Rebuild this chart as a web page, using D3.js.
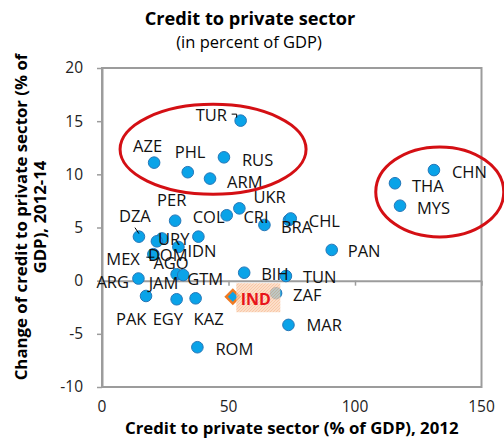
<!DOCTYPE html>
<html><head><meta charset="utf-8">
<script src="https://cdn.jsdelivr.net/npm/d3@7"></script>
<style>body{margin:0;background:#fff}svg{display:block}text{font-family:"Open Sans","Noto Sans",sans-serif}</style>
</head><body><svg id="c" width="504" height="447"></svg>
<script>
const countries = ["TUR","AZE","PHL","RUS","ARM","CHN","THA","MYS","PAN","UKR","COL","CRI","BRA","CHL","PER","DZA","URY","DOM","MEX","IDN","AGO","JAM","GTM","ARG","PAK","EGY","KAZ","ROM","BIH","TUN","ZAF","MAR"];
const credit2012 = [54.8,20.6,33.9,48.2,42.7,131.2,115.8,117.8,90.8,54.3,49.3,64.2,73.9,74.6,28.9,14.6,23.7,21.7,20.3,38.1,30.2,29.5,32.1,14.4,17.4,29.5,37.0,37.7,56.2,72.7,68.8,73.7];
const change1214 = [15.05,11.1,10.2,11.6,9.6,10.4,9.16,7.05,2.89,6.8,6.15,5.24,5.7,5.85,5.64,4.14,3.97,3.7,2.49,4.14,3.17,0.6,0.53,0.2,-1.44,-1.75,-1.66,-6.26,0.75,0.44,-1.18,-4.16];
const highlight = {name:"IND", credit:51.7, change:-1.51};
const xTicks = [0,50,100,150];
const yTicks = [-10,-5,0,5,10,15,20];
// label placement (pixel offsets from the marker)
const labelOffsets = {TUR:[-45,0],AZE:[-21,-11],PHL:[-13,-14],RUS:[18,9],ARM:[17,9],CHN:[18,8],THA:[17,9],MYS:[17,8],PAN:[16,7],UKR:[14,-5],COL:[-34,8],CRI:[-21,-2],BRA:[-8,13],CHL:[18,9],PER:[-18,-15],DZA:[-20,-15],URY:[-4,7],DOM:[-9,20],MEX:[-47,11],IDN:[-11,20],AGO:[-25,22],JAM:[-28,15],GTM:[4,10],ARG:[-42,9],PAK:[-30,29],EGY:[-24,26],KAZ:[-2,27],ROM:[18,8],BIH:[17,7],TUN:[17,7],ZAF:[17,8],MAR:[18,6]};

const svg = d3.select("#c");
const x = d3.scaleLinear().domain([0,150]).range([102,481.5]);
const y = d3.scaleLinear().domain([-10,20]).range([387,68]);

svg.append("text").attr("x",250).attr("y",25).attr("text-anchor","middle").attr("font-weight","bold").attr("font-size",18.2).text("Credit to private sector");
svg.append("text").attr("x",249).attr("y",48).attr("text-anchor","middle").attr("font-size",16.5).text("(in percent of GDP)");

const grey = "#9c9c9c";
svg.append("rect").attr("x",x(0)).attr("y",y(20)).attr("width",x(150)-x(0)).attr("height",y(-10)-y(20)).attr("fill","none").attr("stroke",grey).attr("stroke-width",2);
const ya = svg.append("g").attr("transform",`translate(${x(0)},0)`).call(d3.axisLeft(y).tickValues(yTicks).tickSize(5).tickPadding(14).tickSizeOuter(0).tickFormat(d=>String(d)));
ya.select(".domain").attr("stroke",grey).attr("stroke-width",2);
ya.selectAll(".tick line").attr("stroke",grey).attr("stroke-width",1.5);
ya.selectAll(".tick text").attr("font-size",15.5).attr("fill","#222").attr("font-family","Open Sans");
const xa = svg.append("g").attr("transform",`translate(0,${y(0)})`).call(d3.axisBottom(x).tickValues(xTicks).tickSize(5).tickSizeOuter(0).tickFormat(""));
xa.select(".domain").attr("stroke",grey).attr("stroke-width",2);
xa.selectAll(".tick line").attr("stroke",grey).attr("stroke-width",1.5);
svg.append("g").selectAll("text").data(xTicks).join("text").attr("x",d=>x(d)).attr("y",412).attr("text-anchor","middle").attr("font-size",15.5).attr("fill","#222").text(d=>d);

svg.append("text").attr("x",(x(0)+x(150))/2).attr("y",434).attr("text-anchor","middle").attr("font-weight","bold").attr("font-size",16.8).text("Credit to private sector (% of GDP), 2012");
const yl = svg.append("text").attr("transform","translate(0,217) rotate(-90)").attr("text-anchor","middle").attr("font-weight","bold").attr("font-size",16.8);
yl.append("tspan").attr("x",0).attr("y",27).text("Change of credit to private sector (% of");
yl.append("tspan").attr("x",0).attr("y",46).text("GDP), 2012-14");

const pts = countries.map((c,i)=>({name:c,cx:x(credit2012[i]),cy:y(change1214[i])}));

svg.append("g").selectAll("circle").data(pts).join("circle")
  .attr("cx",d=>d.cx).attr("cy",d=>d.cy).attr("r",5.8)
  .attr("fill","#0aa3e8").attr("stroke","#2577b8").attr("stroke-width",1);

svg.append("g").selectAll("text").data(pts).join("text")
  .attr("x",d=>d.cx+labelOffsets[d.name][0]).attr("y",d=>d.cy+labelOffsets[d.name][1])
  .attr("font-size",16.5).attr("fill","#111").text(d=>d.name);

const byName = Object.fromEntries(pts.map(p=>[p.name,p]));
const lead = svg.append("g").attr("stroke","#000").attr("stroke-width",1).attr("fill","none");
{const p=byName.TUR; lead.append("path").attr("d",`M${p.cx-9},${p.cy-6.5}H${p.cx-4}V${p.cy-3}`);}
{const p=byName.DZA; lead.append("path").attr("d",`M${p.cx-4},${p.cy-9}L${p.cx},${p.cy-3}`);}
{const p=byName.MEX; lead.append("path").attr("d",`M${p.cx-7},${p.cy+3}H${p.cx+1}`);}

const ix = x(highlight.credit), iy = y(highlight.change);
const defs = svg.append("defs");
const pat = defs.append("pattern").attr("id","hatch").attr("patternUnits","userSpaceOnUse").attr("width",3).attr("height",3);
pat.append("rect").attr("width",3).attr("height",3).attr("fill","#fbd3b5");
pat.append("path").attr("d","M0,3L3,0").attr("stroke","#f5ae80").attr("stroke-width",0.8);
svg.append("path").attr("d",d3.symbol(d3.symbolSquare,90)()).attr("transform",`translate(${ix},${iy}) rotate(45)`)
  .attr("fill","#0aa3e8").attr("stroke","#f07a22").attr("stroke-width",2.5);
svg.append("rect").attr("x",ix+3.5).attr("y",iy-13.5).attr("width",44).attr("height",29).attr("fill","url(#hatch)").attr("opacity",0.75);
svg.append("text").attr("x",ix+8).attr("y",iy+8).attr("font-size",16).attr("font-weight","bold").attr("fill","#e8141b").text(highlight.name);

const ell = svg.append("g").attr("fill","none").attr("stroke","#d40f14").attr("stroke-width",3);
ell.append("ellipse").attr("cx",x(43.9)).attr("cy",y(12.35)).attr("rx",93).attr("ry",45);
ell.append("ellipse").attr("cx",x(133.5)).attr("cy",y(8.35)).attr("rx",64).attr("ry",45);
</script></body></html>
